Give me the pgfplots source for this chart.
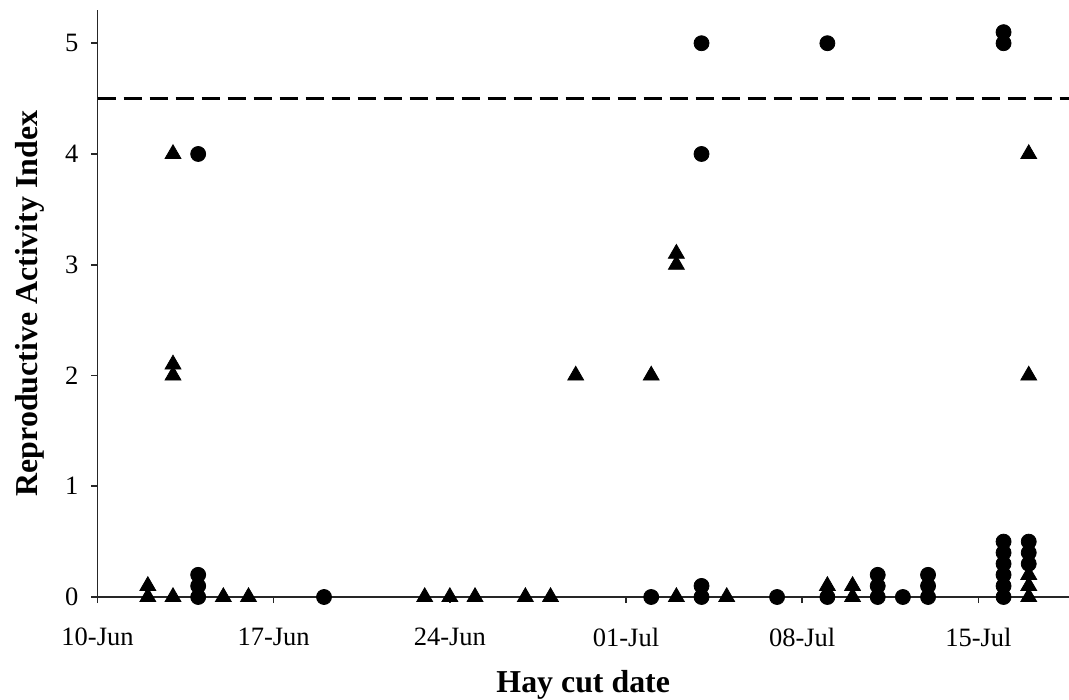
\documentclass[border=0pt]{standalone}
\usepackage{pgfplots}
\pgfplotsset{compat=1.18}
\usepackage{pgfplotstable}
\usepackage{fontspec}
\setmainfont{Liberation Serif}

\pgfplotstableread{
x y
4 0
4 0.1
4 0.2
4 4
9 0
22 0
24 0
24 0.1
24 4
24 5
27 0
29 0
29 5
31 0
31 0.1
31 0.2
32 0
33 0
33 0.1
33 0.2
36 0
36 0.1
36 0.2
36 0.3
36 0.4
36 0.5
36 5
36 5.1
37 0.3
37 0.4
37 0.5
}\circdata

\pgfplotstableread{
x y
2 0
2 0.1
3 0
3 2
3 2.1
3 4
5 0
6 0
13 0
14 0
15 0
17 0
18 0
19 2
22 2
23 0
23 3
23 3.1
25 0
29 0.1
30 0
30 0.1
37 0
37 0.1
37 0.2
37 2
37 4
}\tridata

\begin{document}
\begin{tikzpicture}
\path[use as bounding box] (-48.75bp,-51.5bp) rectangle (485.75bp,298.5bp);
\begin{axis}[
  at={(0,0)}, anchor=south west,
  scale only axis,
  width=485.75bp, height=293.5bp,
  xmin=0, xmax=38.6, ymin=0, ymax=5.3,
  axis lines=left,
  axis line style={-, line width=0.8pt, black!85},
  clip=false,
  xtick={0,7,14,21,28,35},
  xticklabels={10-Jun,17-Jun,24-Jun,01-Jul,08-Jul,15-Jul},
  ytick={0,1,2,3,4,5},
  tick align=outside,
  major tick length=3bp,
  tick style={line width=0.8pt, black!85},
  /pgf/number format/assume math mode=true,
  tick label style={font=\fontsize{13.3}{16}\selectfont},
  xticklabel style={yshift=-9bp},
  yticklabel style={xshift=-3bp},
  xlabel={Hay cut date},
  ylabel={Reproductive Activity Index},
  label style={font=\fontsize{16}{19}\selectfont\bfseries},
  xlabel style={at={(axis description cs:0.5,0)}, anchor=center, yshift=-44bp},
  ylabel style={at={(axis description cs:0,0.5)}, anchor=center, yshift=34bp},
]
\addplot[black, line width=1.5pt, dash pattern=on 9bp off 4bp] coordinates {(0,4.5) (38.6,4.5)};
\addplot[only marks, mark=*, mark size=3.75bp, mark options={fill=black, draw=black}] table[x=x,y=y] {\circdata};
\addplot[only marks, mark=triangle*, mark size=4.6bp, mark options={fill=black, draw=black}] table[x=x,y=y] {\tridata};
\end{axis}
\end{tikzpicture}
\end{document}
